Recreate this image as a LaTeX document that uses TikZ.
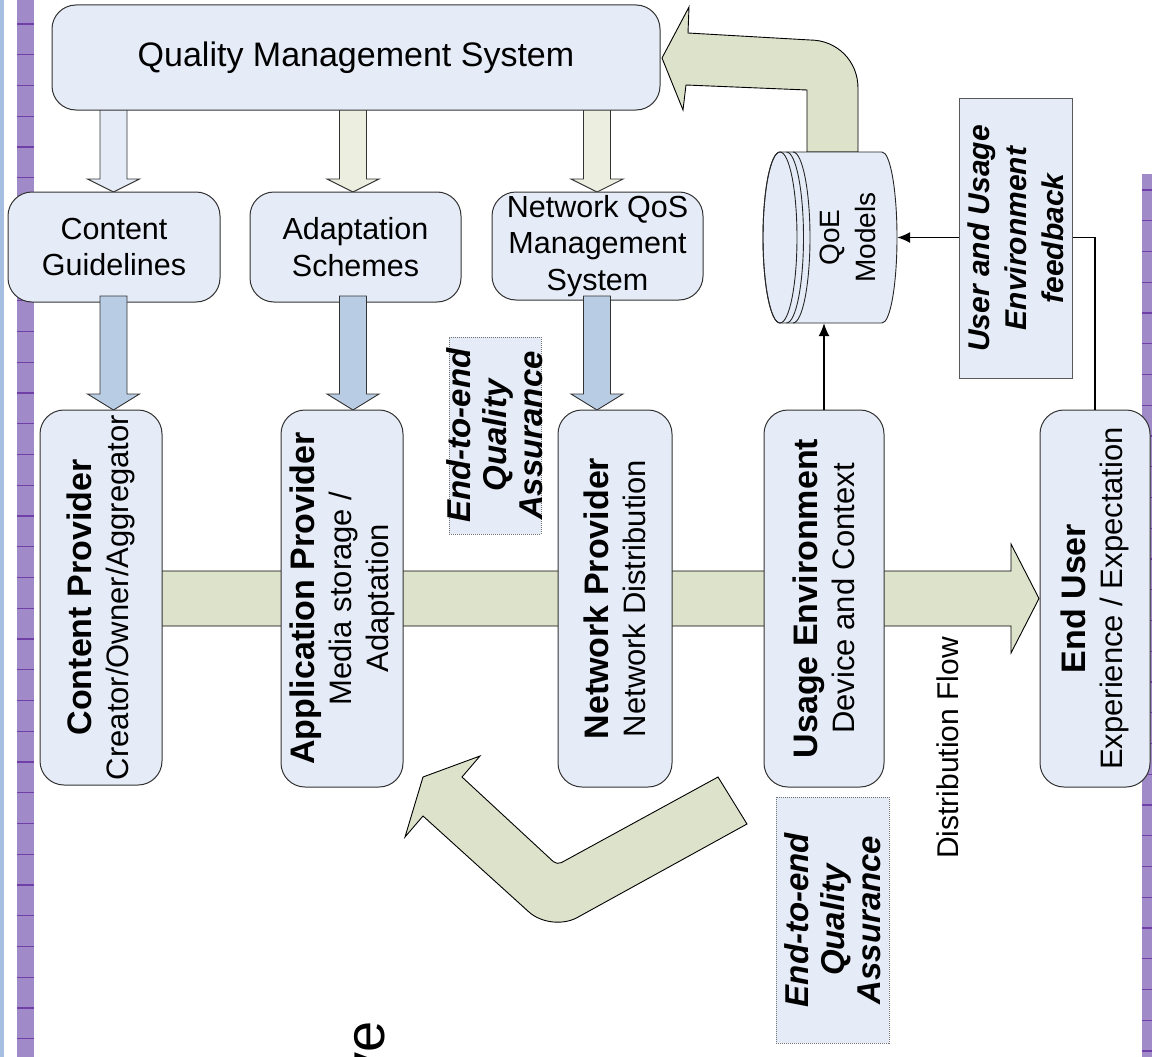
\documentclass[tikz,border=0pt]{standalone}
\usepackage{fontspec}
\setmainfont{Liberation Sans}
\usetikzlibrary{calc,arrows.meta}
\definecolor{boxblue}{HTML}{E6ECF7}
\definecolor{arrgreen}{HTML}{DDE2CB}
\definecolor{arrbeige}{HTML}{ECEEE0}
\definecolor{arrblue}{HTML}{B8CCE4}
\definecolor{stripe}{HTML}{A08AC8}
\definecolor{stripeline}{HTML}{7040A8}
\definecolor{edgeblue}{HTML}{A6BFE0}
\newcommand\fqms{\fontsize{34}{40}\selectfont}
\newcommand\fsec{\fontsize{30.5}{36.5}\selectfont}
\newcommand\fprov{\fontsize{31}{37}\selectfont}
\newcommand\fprovb{\fontsize{34}{37}\selectfont\bfseries}
\newcommand\fqa{\fontsize{33}{36}\selectfont\bfseries\itshape}
\newcommand\ffb{\fontsize{30}{37}\selectfont\bfseries\itshape}
\newcommand\fdist{\fontsize{30}{36}\selectfont}
\newcommand\vblk[5]{\filldraw[draw=black!80,line width=0.9pt,fill=#4] ({#1-13.5},#2) -- ({#1+13.5},#2) -- ({#1+13.5},{#3-#5}) -- ({#1+26},{#3-#5}) -- (#1,#3) -- ({#1-26},{#3-#5}) -- ({#1-13.5},{#3-#5}) -- cycle;}
\begin{document}
\begin{tikzpicture}[x=1pt,y=-1pt,
  box/.style={draw=black!80, line width=1pt, fill=boxblue, rounded corners=24pt, inner sep=0pt},
  qabox/.style={draw=black!55, line width=0.9pt, dash pattern=on 1pt off 1pt, fill=boxblue, inner sep=0pt},
  fbbox/.style={draw=black!65, line width=1pt, fill=boxblue, inner sep=0pt},
  vtext/.style={rotate=90, align=center, inner sep=0pt},
  bigarrow/.style={draw=black, line width=0.9pt, fill=arrgreen},
  conn/.style={draw=black, line width=1.3pt, -{Latex[length=13pt,width=11pt]}}]
\useasboundingbox (0,0) rectangle (1152,1057);
\clip (0,0) rectangle (1152,1057);
\fill[white] (0,0) rectangle (1152,1057);
% side strips
\fill[edgeblue] (0,0) rectangle (3.5,1057);
\fill[stripe] (17,0) rectangle (34,1057);
\foreach \k in {0,...,33} \draw[stripeline, line width=1.2pt] (17,{24+30.75*\k}) -- (34,{24+30.75*\k});
\fill[stripe] (1142,174) rectangle (1152,1057);
\foreach \k in {0,...,28} \draw[stripeline, line width=1.2pt] (1142,{190+30.75*\k}) -- (1152,{190+30.75*\k});
% arrows from QMS
\vblk{113.5}{100}{192}{boxblue}{13}
\vblk{353}{100}{192}{arrbeige}{13}
\vblk{597}{100}{192}{arrbeige}{13}
% QMS
\node[box, minimum width=608pt, minimum height=105pt, font=\fqms] (qms) at (356,57.5) {Quality Management System};
% second row
\node[box, minimum width=212pt, minimum height=110pt, font=\fsec, align=center] (cg) at (114,247) {Content\\Guidelines};
\node[box, minimum width=211pt, minimum height=110pt, font=\fsec, align=center] (as) at (355.5,247) {Adaptation\\Schemes};
\node[box, minimum width=211pt, minimum height=108pt, font=\fsec, align=center] (nq) at (597.5,246) {Network QoS\\Management\\System};
% blue arrows
\vblk{113.5}{296}{410}{arrblue}{16}
\vblk{353}{296}{410}{arrblue}{16}
\vblk{597}{296}{410}{arrblue}{16}
% distribution flow arrow
\filldraw[bigarrow] (150,571) -- (1011,571) -- (1011,544) -- (1039,598.5) -- (1011,653) -- (1011,626) -- (150,626) -- cycle;
% provider boxes
\node[box, minimum width=122pt, minimum height=375pt] (cp) at (101,597.5) {};
\node[box, minimum width=122pt, minimum height=377pt] (ap) at (342,598.5) {};
\node[box, minimum width=114pt, minimum height=377pt] (np) at (615,598.5) {};
\node[box, minimum width=120pt, minimum height=377pt] (ue) at (824,598.5) {};
\node[box, minimum width=110pt, minimum height=377pt] (eu) at (1095,598.5) {};
\node[vtext, font=\fprov] (cpt) at (cp.center) {{\fprovb Content Provider}\\Creator/Owner/Aggregator};
\node[vtext, font=\fprov] (apt) at (ap.center) {{\fprovb Application Provider}\\Media storage /\\Adaptation};
\node[vtext, font=\fprov] (npt) at (np.center) {{\fprovb Network Provider}\\Network Distribution};
\node[vtext, font=\fprov] (uet) at (ue.center) {{\fprovb Usage Environment}\\Device and Context};
\node[vtext, font=\fprov] (eut) at (eu.center) {{\fprovb End User}\\Experience / Expectation};
% bottom bent arrow
\filldraw[bigarrow] (423,777) -- (480,756) -- (462,777) [rounded corners=5pt] -- (557,865) [sharp corners] -- (718,777) -- (747,824) [rounded corners=30pt] -- (551,932) [sharp corners] -- (423,816) -- (405,837) -- cycle;
% QA boxes
\node[qabox, minimum width=92pt, minimum height=197pt] (qa1) at (495,435.5) {};
\node[vtext, font=\fqa] (qa1t) at (qa1.center) {End-to-end\\Quality\\Assurance};
\node[qabox, minimum width=113pt, minimum height=246pt] (qa2) at (832.5,920) {};
\node[vtext, font=\fqa] (qa2t) at (qa2.center) {End-to-end\\Quality\\Assurance};
% distribution flow label
\node[vtext, font=\fdist] (df) at (948,748) {Distribution Flow};
% top curved arrow to QMS
\filldraw[bigarrow] (662,58) -- (689,7) -- (688,33) -- (810,40) .. controls (837,40) and (858,61) .. (858,88) -- (858,152) -- (807,152) -- (807,90) -- (686,85) -- (683,110) -- cycle;
% QoE models cylinder
\filldraw[draw=black!85, line width=0.9pt, fill=boxblue] (780,152) -- (882,152) arc[start angle=-90, end angle=90, x radius=15, y radius=85.5] -- (780,323) arc[start angle=90, end angle=270, x radius=17, y radius=85.5] -- cycle;
\draw[black!85, line width=0.9pt] (780,237.5) ellipse [x radius=17, y radius=85.5];
\draw[black!85, line width=0.9pt] (786.5,152) arc[start angle=-90, end angle=90, x radius=17, y radius=85.5];
\draw[black!85, line width=0.9pt] (793,152) arc[start angle=-90, end angle=90, x radius=17, y radius=85.5];
\node[minimum width=134pt, minimum height=171pt, inner sep=0pt] (qoe) at (830,237.5) {};
\node[vtext, font=\fontsize{28}{36}\selectfont] (qoet) at (848,237.5) {QoE\\Models};
% connectors
\draw[conn] (ue.north) -- (ue.north |- qoe.south);
\draw[conn] (eu.north) |- (qoe.east);
% feedback box
\node[fbbox, minimum width=113pt, minimum height=279pt] (fb) at (1015.5,238.5) {};
\node[vtext, font=\ffb] (fbt) at (fb.center) {User and Usage\\Environment\\feedback};
% clipped word at bottom
\node[rotate=90, anchor=base east, inner sep=0pt, font=\fontsize{56}{60}\selectfont] (ve) at (384,1021) {ve};
\end{tikzpicture}
\end{document}
